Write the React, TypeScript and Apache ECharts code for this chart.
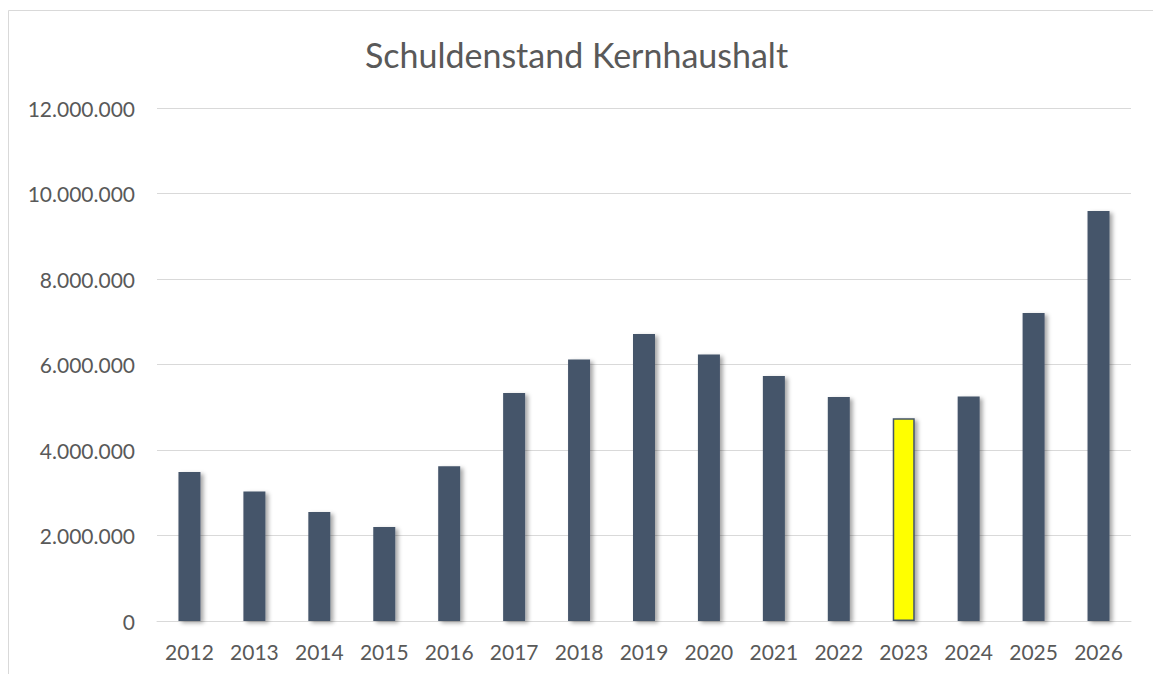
import React, { useEffect, useRef } from "react";
import * as echarts from "echarts";

const TITLE = "Schuldenstand Kernhaushalt";
const years = ["2012", "2013", "2014", "2015", "2016", "2017", "2018", "2019", "2020", "2021", "2022", "2023", "2024", "2025", "2026"];
const debt = [3485000, 3027000, 2550000, 2199000, 3619000, 5333000, 6115000, 6713000, 6232000, 5731000, 5240000, 4740000, 5250000, 7205000, 9590000];
const highlightYear = "2023";
const yTicks = [0, 2000000, 4000000, 6000000, 8000000, 10000000, 12000000];

const BAR = "#44546A";
const HIGHLIGHT = "#FFFF00";
const TEXT = "#595959";
const GRID = "#D9D9D9";
const FONT = "Lato, 'Open Sans', sans-serif";

const fmt = (v: number) => String(Math.round(v)).replace(/\B(?=(\d{3})+(?!\d))/g, ".");

export default function App() {
  const ref = useRef<HTMLDivElement>(null);
  useEffect(() => {
    if (!ref.current) return;
    const chart = echarts.init(ref.current, null, { renderer: "svg" });
    const shadow = {
      shadowColor: "rgba(0,0,0,0.35)",
      shadowBlur: 4,
      shadowOffsetX: 3,
      shadowOffsetY: 2,
    };
    chart.setOption({
      animation: false,
      backgroundColor: "#FFFFFF",
      title: {
        text: TITLE,
        left: "center",
        top: 32,
        textStyle: { fontFamily: FONT, fontSize: 34, fontWeight: "normal", color: TEXT },
      },
      graphic: [
        {
          type: "rect",
          shape: { x: 8.5, y: 10.5, width: 1200, height: 700 },
          style: { fill: "none", stroke: GRID, lineWidth: 1 },
          silent: true,
        },
      ],
      grid: { left: 157, right: 22, top: 108, bottom: 53, containLabel: false },
      xAxis: {
        type: "category",
        data: years,
        axisLine: { show: true, lineStyle: { color: GRID, width: 1 } },
        axisTick: { show: false },
        axisLabel: { color: TEXT, fontFamily: FONT, fontSize: 21, margin: 20 },
      },
      yAxis: {
        type: "value",
        min: yTicks[0],
        max: yTicks[yTicks.length - 1],
        interval: yTicks[1] - yTicks[0],
        axisLine: { show: false },
        axisTick: { show: false },
        splitLine: { lineStyle: { color: GRID, width: 1 } },
        axisLabel: { color: TEXT, fontFamily: FONT, fontSize: 21, margin: 22, formatter: (v: number) => fmt(v) },
      },
      series: [
        {
          type: "bar",
          barWidth: 22,
          data: debt.map((v, i) =>
            years[i] === highlightYear
              ? { value: v, itemStyle: { color: HIGHLIGHT, borderColor: BAR, borderWidth: 1.5, ...shadow } }
              : { value: v, itemStyle: { color: BAR, ...shadow } }
          ),
        },
      ],
    });
    return () => chart.dispose();
  }, []);
  return <div ref={ref} style={{ position: "fixed", left: 0, top: 0, width: 1153, height: 674 }} />;
}
